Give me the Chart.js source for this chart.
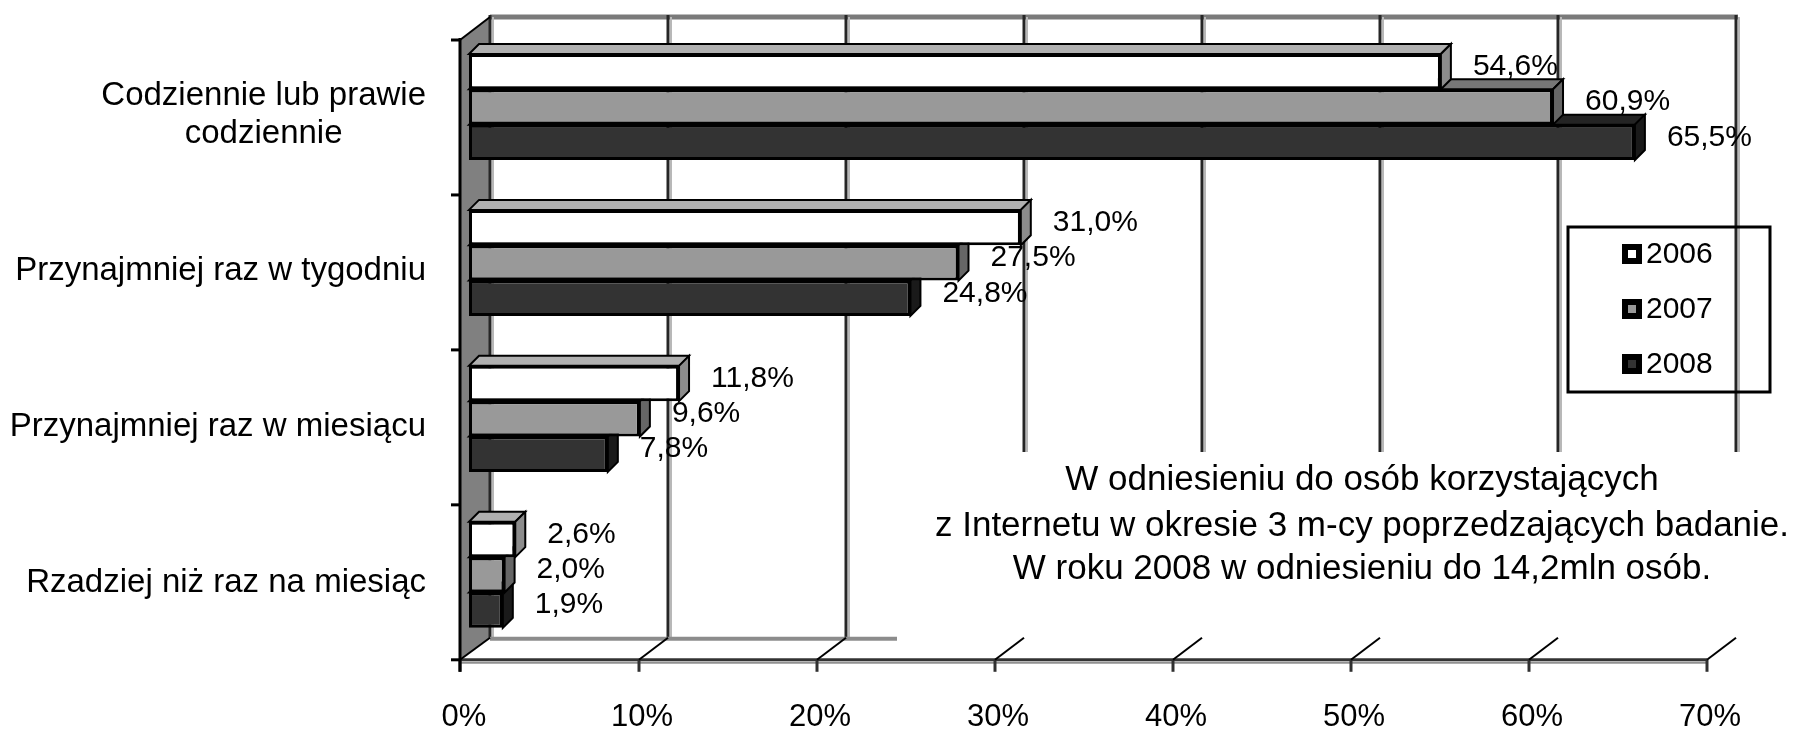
<!DOCTYPE html>
<html><head><meta charset="utf-8">
<script src="https://cdn.jsdelivr.net/npm/chart.js@4.4.1/dist/chart.umd.min.js"></script>
<style>
html,body{margin:0;padding:0;background:#fff;overflow:hidden;width:1793px;height:731px;}
#wrap{width:1793px;height:731px;overflow:hidden;position:relative;}
canvas{display:block;}
</style></head><body>
<div id="wrap"><canvas id="c" width="1793" height="782"></canvas></div>
<script>
// ---- data ----
const categories = [['Codziennie lub prawie', 'codziennie'], 'Przynajmniej raz w tygodniu', 'Przynajmniej raz w miesiącu', 'Rzadziej niż raz na miesiąc'];
const seriesNames = ['2006', '2007', '2008'];
const values2006 = [54.6, 31.0, 11.8, 2.6];
const values2007 = [60.9, 27.5, 9.6, 2.0];
const values2008 = [65.5, 24.8, 7.8, 1.9];
const tickValues = [0, 10, 20, 30, 40, 50, 60, 70];
const noteLines = ['W odniesieniu do osób korzystających', 'z Internetu w okresie 3 m-cy poprzedzających badanie.', 'W roku 2008 w odniesieniu do 14,2mln osób.'];

// ---- styles / layout ----
const FONT = '"Liberation Sans", Arial, sans-serif';
const frontColors = ['#ffffff', '#999999', '#333333'];
const topColors = ['#b0b0b0', '#777777', '#242424'];
const sideColors = ['#8c8c8c', '#666666', '#1a1a1a'];
const L = {
  depth: 10,
  backDx: 21, backTopDy: -12, backBotDy: -15,
  frontDx: -8, frontTopDy: 11, frontBotDy: 7,
  catRight: 426, catDy: 8, catLineH: 38, catFont: 33,
  labelDx: 32, labelDy: -5, labelFont: 30,
  legend: {x: 1568, y: 227, w: 202, h: 165, mx: 1622, ms: 20, tx: 1646, rows: [254, 309, 364], font: 30},
  note: {left: 897, top: 452, right: 1793, bottom: 642, cx: 1362, rows: [480, 526, 569], font: 35}
};
const fmt = v => v.toFixed(1).replace('.', ',') + '%';

function seg(ctx, x1, y1, x2, y2) { ctx.beginPath(); ctx.moveTo(x1, y1); ctx.lineTo(x2, y2); ctx.stroke(); }

const decor = {
  id: 'decor',
  beforeDatasetsDraw(chart) {
    const ctx = chart.ctx, a = chart.chartArea, xs = chart.scales.x, ys = chart.scales.y;
    const backTop = a.top + L.backTopDy, backBot = a.bottom + L.backBotDy;
    const frontTop = a.top + L.frontTopDy, frontBot = a.bottom + L.frontBotDy;
    const bx = v => xs.getPixelForValue(v) + L.backDx;
    const fx = v => xs.getPixelForValue(v) + L.frontDx - (v === 0 ? 1 : 0);
    const vmin = tickValues[0], vmax = tickValues[tickValues.length - 1];
    ctx.save();
    ctx.lineCap = 'butt';
    // left side wall
    ctx.fillStyle = '#808080';
    ctx.beginPath();
    ctx.moveTo(fx(vmin), frontTop); ctx.lineTo(bx(vmin), backTop);
    ctx.lineTo(bx(vmin), backBot); ctx.lineTo(fx(vmin), frontBot); ctx.closePath(); ctx.fill();
    // back wall top edge
    ctx.strokeStyle = '#7a7a7a'; ctx.lineWidth = 5;
    seg(ctx, bx(vmin), backTop, bx(vmax) + 2, backTop);
    // back wall grid lines
    tickValues.forEach(v => {
      ctx.strokeStyle = '#b8b8b8'; ctx.lineWidth = 2;
      seg(ctx, bx(v) + 3, backTop, bx(v) + 3, backBot);
      ctx.strokeStyle = '#262626'; ctx.lineWidth = 3;
      seg(ctx, bx(v), backTop - 2, bx(v), backBot);
    });
    // floor back edge
    ctx.strokeStyle = '#8c8c8c'; ctx.lineWidth = 4;
    seg(ctx, bx(vmin), backBot + 1, bx(vmax), backBot + 1);
    // note text box (white fill covers part of the wall)
    const n = L.note;
    ctx.fillStyle = '#ffffff';
    ctx.fillRect(n.left, n.top, n.right - n.left, n.bottom - n.top);
    ctx.fillStyle = '#000';
    ctx.font = n.font + 'px ' + FONT;
    ctx.textAlign = 'center'; ctx.textBaseline = 'middle';
    noteLines.forEach((t, i) => ctx.fillText(t, n.cx, n.rows[i]));
    // front floor edge (baseline)
    ctx.strokeStyle = '#909090'; ctx.lineWidth = 2;
    seg(ctx, fx(vmin), frontBot + 3, fx(vmax), frontBot + 3);
    ctx.strokeStyle = '#333333'; ctx.lineWidth = 3;
    seg(ctx, fx(vmin), frontBot, fx(vmax), frontBot);
    // value ticks + depth diagonals
    tickValues.forEach(v => {
      ctx.strokeStyle = '#303030'; ctx.lineWidth = 3;
      seg(ctx, fx(v), frontBot, fx(v), frontBot + 12);
      ctx.strokeStyle = '#000'; ctx.lineWidth = 2;
      seg(ctx, fx(v), frontBot, bx(v), backBot);
    });
    // top diagonal of side wall
    ctx.strokeStyle = '#000'; ctx.lineWidth = 2;
    seg(ctx, fx(vmin), frontTop, bx(vmin), backTop);
    // front vertical axis
    ctx.strokeStyle = '#000'; ctx.lineWidth = 3;
    seg(ctx, fx(vmin), frontTop - 2, fx(vmin), frontBot + 12);
    // category ticks
    const nCat = categories.length;
    for (let i = 0; i <= nCat; i++) {
      const yb = (i === 0) ? a.top : (i === nCat ? a.bottom : (ys.getPixelForValue(i - 1) + ys.getPixelForValue(i)) / 2);
      const yf = frontTop + (yb - a.top) * (frontBot - frontTop) / (a.bottom - a.top);
      seg(ctx, fx(vmin) - 9, yf, fx(vmin), yf);
    }
    // 3D faces of bars (drawn back-to-front: last dataset first)
    const d = L.depth;
    for (let di = chart.data.datasets.length - 1; di >= 0; di--) {
      const meta = chart.getDatasetMeta(di);
      meta.data.forEach(el => {
        const x0 = el.base, x1 = el.x, yt = el.y - el.height / 2, yb = el.y + el.height / 2;
        ctx.lineWidth = 2; ctx.strokeStyle = '#000'; ctx.lineJoin = 'miter';
        ctx.fillStyle = topColors[di];
        ctx.beginPath();
        ctx.moveTo(x0, yt); ctx.lineTo(x1, yt); ctx.lineTo(x1 + d, yt - d); ctx.lineTo(x0 + d, yt - d); ctx.closePath();
        ctx.fill(); ctx.stroke();
        ctx.fillStyle = sideColors[di];
        ctx.beginPath();
        ctx.moveTo(x1, yt); ctx.lineTo(x1 + d, yt - d); ctx.lineTo(x1 + d, yb - d); ctx.lineTo(x1, yb); ctx.closePath();
        ctx.fill(); ctx.stroke();
      });
    }
    ctx.restore();
  },
  afterDatasetsDraw(chart) {
    const ctx = chart.ctx, ys = chart.scales.y;
    ctx.save();
    // data labels
    ctx.fillStyle = '#000';
    ctx.font = L.labelFont + 'px ' + FONT;
    ctx.textAlign = 'left'; ctx.textBaseline = 'middle';
    chart.data.datasets.forEach((ds, di) => {
      chart.getDatasetMeta(di).data.forEach((el, j) => {
        ctx.fillText(fmt(ds.data[j]), el.x + L.labelDx, el.y + L.labelDy);
      });
    });
    // category labels
    ctx.font = L.catFont + 'px ' + FONT;
    ctx.textAlign = 'center';
    categories.forEach((c, i) => {
      const lines = Array.isArray(c) ? c : [c];
      const w = Math.max(...lines.map(t => ctx.measureText(t).width));
      const cx = L.catRight - w / 2;
      const cy = ys.getPixelForValue(i) + L.catDy;
      lines.forEach((t, k) => ctx.fillText(t, cx, cy + (k - (lines.length - 1) / 2) * L.catLineH));
    });
    // legend
    const g = L.legend;
    ctx.strokeStyle = '#000'; ctx.lineWidth = 3;
    ctx.strokeRect(g.x, g.y, g.w, g.h);
    ctx.font = g.font + 'px ' + FONT;
    ctx.textAlign = 'left';
    chart.data.datasets.forEach((ds, di) => {
      const cy = g.rows[di];
      ctx.fillStyle = '#000';
      ctx.fillRect(g.mx, cy - g.ms / 2, g.ms, g.ms);
      ctx.fillStyle = ds.backgroundColor;
      ctx.fillRect(g.mx + 6, cy - g.ms / 2 + 6, g.ms - 12, g.ms - 12);
      ctx.fillStyle = '#000';
      ctx.fillText(ds.label, g.tx, cy + 1);
    });
    ctx.restore();
  }
};

Chart.defaults.font.family = FONT;
Chart.defaults.color = '#000';

new Chart(document.getElementById('c'), {
  type: 'bar',
  data: {
    labels: categories,
    datasets: [
      {label: seriesNames[0], data: values2006, backgroundColor: frontColors[0]},
      {label: seriesNames[1], data: values2007, backgroundColor: frontColors[1]},
      {label: seriesNames[2], data: values2008, backgroundColor: frontColors[2]}
    ]
  },
  options: {
    indexAxis: 'y',
    responsive: false,
    animation: false,
    devicePixelRatio: 1,
    layout: {padding: {left: 469, right: 78, top: 29, bottom: 0}},
    datasets: {bar: {borderColor: '#000', borderWidth: 3, borderSkipped: false, categoryPercentage: 0.68, barPercentage: 1}},
    plugins: {legend: {display: false}, tooltip: {enabled: false}},
    scales: {
      x: {
        min: 0, max: 70,
        afterBuildTicks: s => { s.ticks = tickValues.map(v => ({value: v})); },
        ticks: {font: {size: 31}, color: '#000', padding: 46, labelOffset: -5, autoSkip: false, maxRotation: 0, callback: v => v + '%'},
        grid: {display: false, drawTicks: false},
        border: {display: false}
      },
      y: {display: false}
    }
  },
  plugins: [decor]
});
</script>
</body></html>
